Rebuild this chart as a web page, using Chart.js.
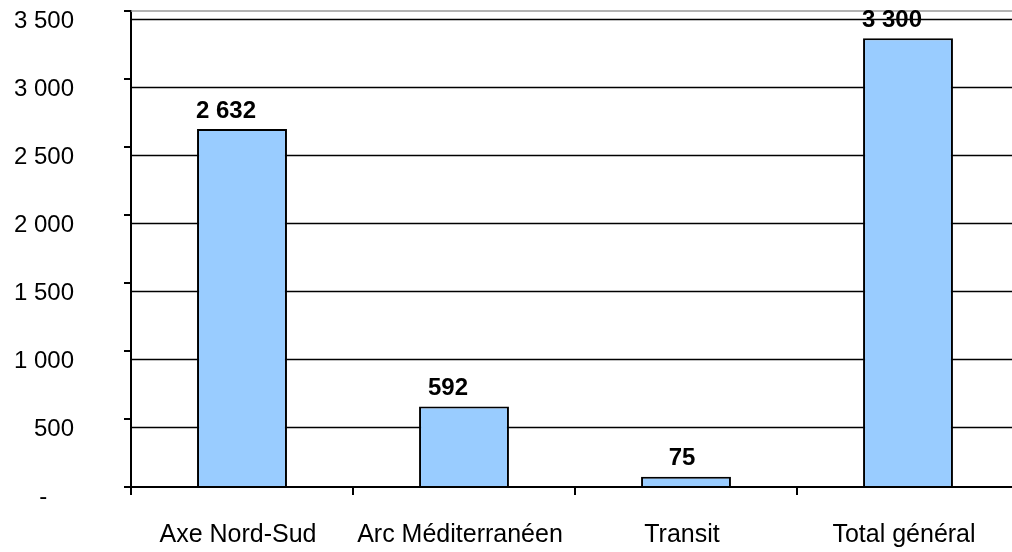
<!DOCTYPE html>
<html>
<head>
<meta charset="utf-8">
<script src="https://cdn.jsdelivr.net/npm/chart.js@4/dist/chart.umd.min.js"></script>
<style>
  html, body { margin: 0; padding: 0; background: #fff; overflow: hidden; }
  #wrap { width: 1020px; height: 552px; position: relative; }
</style>
</head>
<body>
<div id="wrap"><canvas id="chart"></canvas></div>
<script>
// categories and values
const categories = ['Axe Nord-Sud', 'Arc Méditerranéen', 'Transit', 'Total général'];
const values = [2632, 592, 75, 3300];
const yTicks = [0, 500, 1000, 1500, 2000, 2500, 3000, 3500];

// horizontal nudge of the value labels above each bar
const labelNudge = [-16, -16, -4, -16];

const FONT = "'Liberation Sans', Arial, sans-serif";

// "3 500" style thousands
function fmt(v) {
    return String(v).replace(/\B(?=(\d{3})+(?!\d))/g, ' ');
}

// gridlines sit a little below the tick marks, plus a grey top edge
const gridPlugin = {
    id: 'gridLines',
    beforeDatasetsDraw(chart) {
        const ctx = chart.ctx;
        const area = chart.chartArea;
        const y = chart.scales.y;
        ctx.save();
        ctx.strokeStyle = '#000';
        ctx.lineWidth = 1.3;
        yTicks.forEach(v => {
            if (v === 0) return;
            const py = Math.round(y.getPixelForValue(v) + 8) + 0.5;
            ctx.beginPath();
            ctx.moveTo(area.left, py);
            ctx.lineTo(area.right, py);
            ctx.stroke();
        });
        ctx.strokeStyle = '#9a9a9a';
        ctx.lineWidth = 1.5;
        ctx.beginPath();
        ctx.moveTo(area.left, area.top);
        ctx.lineTo(area.right, area.top);
        ctx.stroke();
        ctx.restore();
    }
};

// bold value labels above the bars
const valueLabels = {
    id: 'valueLabels',
    afterDatasetsDraw(chart) {
        const ctx = chart.ctx;
        const meta = chart.getDatasetMeta(0);
        ctx.save();
        ctx.fillStyle = '#000';
        ctx.font = 'bold 24px ' + FONT;
        ctx.textAlign = 'center';
        ctx.textBaseline = 'middle';
        meta.data.forEach((bar, i) => {
            const v = chart.data.datasets[0].data[i];
            ctx.fillText(fmt(v), bar.x + labelNudge[i], bar.y - 18);
        });
        ctx.restore();
    }
};

const ctx = document.getElementById('chart').getContext('2d');
const chart = new Chart(ctx, {
    type: 'bar',
    data: {
        labels: categories,
        datasets: [{
            data: values,
            backgroundColor: '#99CCFF',
            borderColor: '#000',
            borderWidth: 2,
            categoryPercentage: 1,
            barPercentage: 0.405
        }]
    },
    options: {
        responsive: true,
        maintainAspectRatio: false,
        animation: false,
        layout: { padding: { top: 11, right: 1, left: 0, bottom: 0 } },
        plugins: {
            legend: { display: false },
            tooltip: { enabled: false }
        },
        scales: {
            x: {
                offset: true,
                grid: { offset: true, drawOnChartArea: false, drawTicks: true, tickLength: 8, color: '#000', lineWidth: 2 },
                border: { display: true, color: '#000', width: 2 },
                ticks: {
                    color: '#000',
                    font: { family: FONT, size: 25 },
                    padding: 25,
                    labelOffset: -4,
                    maxRotation: 0,
                    autoSkip: false
                },
                afterFit(scale) {
                    scale.height = 65;
                    scale.paddingLeft = 0;
                    scale.paddingRight = 0;
                }
            },
            y: {
                min: 0,
                max: 3500,
                afterBuildTicks(scale) {
                    scale.ticks = yTicks.map(v => ({ value: v }));
                },
                grid: { drawOnChartArea: false, drawTicks: true, tickLength: 7, color: '#000', lineWidth: 2 },
                border: { display: true, color: '#000', width: 2 },
                ticks: {
                    color: '#000',
                    font: { family: FONT, size: 24 },
                    padding: 50,
                    labelOffset: 10,
                    callback: v => v === 0 ? '-\u2007\u2007' : fmt(v)
                },
                afterFit(scale) {
                    scale.width = 131;
                    scale.paddingTop = 0;
                    scale.paddingBottom = 0;
                }
            }
        }
    },
    plugins: [gridPlugin, valueLabels]
});
</script>
</body>
</html>
